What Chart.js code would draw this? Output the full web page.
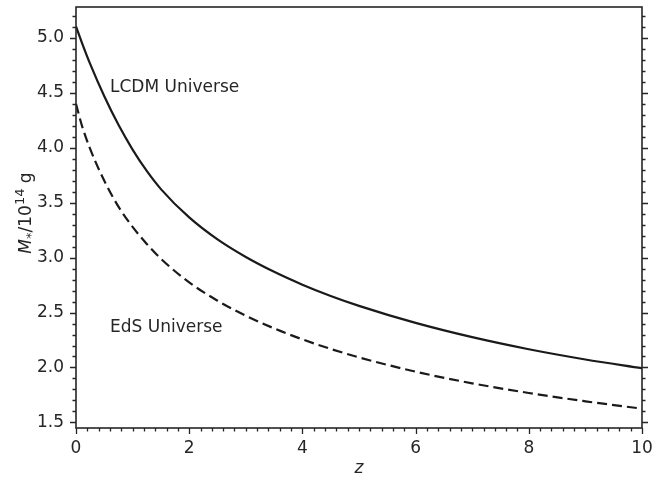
<!DOCTYPE html>
<html>
<head>
<meta charset="utf-8">
<script src="https://cdn.jsdelivr.net/npm/chart.js@4.4.1/dist/chart.umd.min.js"></script>
<style>
  html, body { margin: 0; padding: 0; background: #fff; }
  #wrap { width: 654px; height: 479px; }
</style>
</head>
<body>
<div id="wrap"><canvas id="chart" width="654" height="479"></canvas></div>
<script>
// Data
const zValues   = [0, 0.1, 0.25, 0.5, 0.75, 1.0, 1.25, 1.5, 2.0, 2.5, 3.0, 3.5, 4.0, 4.5, 5.0, 6.0, 7.0, 8.0, 9.0, 10.0];
const lcdmMass  = [5.105, 4.963, 4.764, 4.469, 4.209, 3.984, 3.789, 3.624, 3.366, 3.166, 3.006, 2.871, 2.754, 2.651, 2.561, 2.406, 2.276, 2.166, 2.073, 1.994];
const edsMass   = [4.40, 4.21, 3.99, 3.70, 3.465, 3.28, 3.125, 2.99, 2.775, 2.608, 2.472, 2.356, 2.256, 2.169, 2.092, 1.962, 1.856, 1.768, 1.692, 1.625];

const xMajorTicks = [0, 2, 4, 6, 8, 10];
const yMajorTicks = [1.5, 2.0, 2.5, 3.0, 3.5, 4.0, 4.5, 5.0];
const xMinorStep = 0.2;
const yMinorStep = 0.1;

const labels = [
  { text: 'LCDM Universe', z: 0.6, m: 4.55 },
  { text: 'EdS Universe', z: 0.6, m: 2.36 }
];

const INK = '#262626';
const FONT = '"DejaVu Sans", sans-serif';

function toPoints(ys) {
  return zValues.map((z, i) => ({ x: z, y: ys[i] }));
}

// Frame, matplotlib-style ticks, axis titles and curve labels
const framePlugin = {
  id: 'frame',
  afterDraw(chart) {
    const ctx = chart.ctx;
    const xs = chart.scales.x;
    const ys = chart.scales.y;
    const a = chart.chartArea;
    ctx.save();
    ctx.strokeStyle = INK;
    ctx.lineWidth = 1.3;

    // y ticks, left and right
    for (let k = 0; ; k++) {
      const v = Math.round((1.5 + k * yMinorStep) * 10) / 10;
      if (v > ys.max) break;
      const p = Math.round(ys.getPixelForValue(v)) + 0.5;
      const major = yMajorTicks.some(t => Math.abs(t - v) < 1e-6);
      const len = major ? 6 : 3.5;
      ctx.beginPath();
      ctx.moveTo(a.left, p); ctx.lineTo(a.left - len, p);
      ctx.moveTo(a.right, p); ctx.lineTo(a.right + len, p);
      ctx.stroke();
    }
    // x ticks, bottom only
    for (let k = 0; ; k++) {
      const v = Math.round(k * xMinorStep * 10) / 10;
      if (v > xs.max + 1e-6) break;
      const p = Math.round(xs.getPixelForValue(v)) + 0.5;
      const major = xMajorTicks.some(t => Math.abs(t - v) < 1e-6);
      const len = major ? 6 : 3.5;
      ctx.beginPath();
      ctx.moveTo(p, a.bottom); ctx.lineTo(p, a.bottom + len);
      ctx.stroke();
    }

    // box
    ctx.lineWidth = 1.6;
    ctx.strokeRect(a.left, a.top, a.right - a.left, a.bottom - a.top);

    ctx.fillStyle = INK;
    // curve labels
    ctx.font = '17px ' + FONT;
    ctx.textAlign = 'left';
    ctx.textBaseline = 'middle';
    labels.forEach(l => {
      ctx.fillText(l.text, xs.getPixelForValue(l.z), ys.getPixelForValue(l.m));
    });

    // x title
    ctx.font = 'italic 17px ' + FONT;
    ctx.textAlign = 'center';
    ctx.textBaseline = 'alphabetic';
    ctx.fillText('z', (a.left + a.right) / 2, 473);

    // y title: M_* / 10^14 g
    const parts = [
      { t: 'M', f: 'italic 17px ' + FONT, dy: 0 },
      { t: '*', f: '13px ' + FONT, dy: 4 },
      { t: '/10', f: '17px ' + FONT, dy: 0 },
      { t: '14', f: '13px ' + FONT, dy: -7 },
      { t: ' g', f: '17px ' + FONT, dy: 0 }
    ];
    let total = 0;
    parts.forEach(p => { ctx.font = p.f; p.w = ctx.measureText(p.t).width; total += p.w; });
    ctx.translate(31, 213);
    ctx.rotate(-Math.PI / 2);
    ctx.textAlign = 'left';
    let x0 = -total / 2;
    parts.forEach(p => {
      ctx.font = p.f;
      ctx.fillText(p.t, x0, p.dy);
      x0 += p.w;
    });
    ctx.restore();
  }
};

new Chart(document.getElementById('chart'), {
  type: 'line',
  data: {
    datasets: [
      {
        label: 'LCDM Universe',
        data: toPoints(lcdmMass),
        borderColor: '#1a1a1a',
        borderWidth: 2.2,
        pointRadius: 0,
        cubicInterpolationMode: 'monotone',
        fill: false
      },
      {
        label: 'EdS Universe',
        data: toPoints(edsMass),
        borderColor: '#1a1a1a',
        borderWidth: 2.2,
        borderDash: [10, 5],
        pointRadius: 0,
        cubicInterpolationMode: 'monotone',
        fill: false
      }
    ]
  },
  options: {
    responsive: false,
    animation: false,
    layout: { padding: { top: 7, right: 12, left: 0, bottom: 0 } },
    plugins: {
      legend: { display: false },
      tooltip: { enabled: false }
    },
    scales: {
      x: {
        type: 'linear',
        min: 0,
        max: 10,
        afterBuildTicks: s => { s.ticks = xMajorTicks.map(v => ({ value: v })); },
        afterFit: s => {
          s.height = 51;
          s.paddingLeft = 0; s.paddingRight = 0; s.paddingTop = 0; s.paddingBottom = 0;
        },
        grid: { display: false, drawTicks: false },
        border: { display: false },
        ticks: {
          color: INK,
          font: { family: FONT, size: 17 },
          padding: 10,
          maxRotation: 0,
          callback: v => String(v)
        }
      },
      y: {
        type: 'linear',
        min: 1.449,
        max: 5.282,
        afterBuildTicks: s => { s.ticks = yMajorTicks.map(v => ({ value: v })); },
        afterFit: s => {
          s.width = 76;
          s.paddingLeft = 0; s.paddingRight = 0; s.paddingTop = 0; s.paddingBottom = 0;
        },
        grid: { display: false, drawTicks: false },
        border: { display: false },
        ticks: {
          color: INK,
          font: { family: FONT, size: 17 },
          padding: 12,
          callback: v => v.toFixed(1)
        }
      }
    }
  },
  plugins: [framePlugin]
});
</script>
</body>
</html>
